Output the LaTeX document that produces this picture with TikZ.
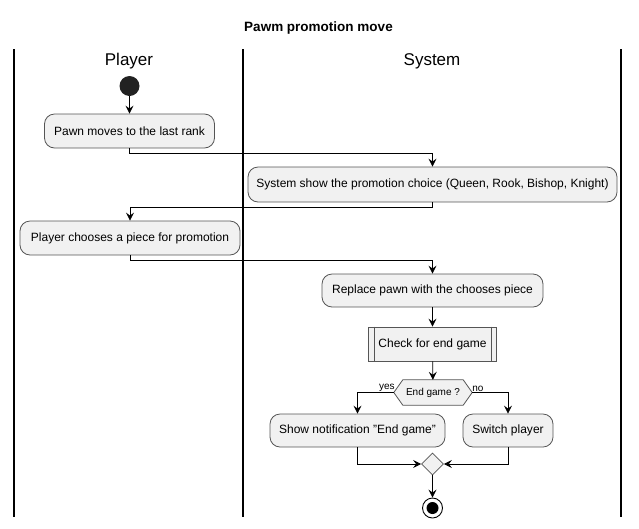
\documentclass[tikz,border=0pt]{standalone}
\usepackage{fontspec}
\setmainfont{Liberation Sans}
\usetikzlibrary{arrows.meta,shapes.geometric,calc}
\definecolor{boxfill}{HTML}{F1F1F1}
\definecolor{boxline}{HTML}{555555}
\definecolor{dotfill}{HTML}{222222}
\tikzset{
  act/.style={draw=boxline, fill=boxfill, rounded corners=10pt, line width=0.8pt,
    inner sep=0pt, font=\fontsize{12}{14}\selectfont, text=black},
  sub/.style={draw=boxline, fill=boxfill, line width=0.8pt,
    inner sep=0pt, font=\fontsize{12}{14}\selectfont, text=black},
  flow/.style={draw=black, line width=0.8pt, -{Stealth[length=8pt,width=8pt,inset=3pt]}},
  lane/.style={draw=black, line width=1.3pt},
  lanehead/.style={font=\fontsize{17}{20}\selectfont},
  guard/.style={font=\fontsize{10}{12}\selectfont, inner sep=0pt}
}
\begin{document}
\begin{tikzpicture}[x=1pt,y=-1pt]
\useasboundingbox (0,0) rectangle (639,528);
% title
\node[font=\fontsize{13.5}{16}\bfseries\selectfont] (title) at (318.5,28) {Pawm promotion move};
% lanes
\draw[lane] (14,49) -- (14,517);
\draw[lane] (243,49) -- (243,517);
\draw[lane] (621,49) -- (621,517);
\node[lanehead] (hp) at (129,61.5) {Player};
\node[lanehead] (hs) at (432,61.5) {System};
% start
\node[circle, fill=dotfill, minimum size=20pt, inner sep=0pt] (start) at (129.5,86) {};
% activities
\node[act, minimum width=170pt, minimum height=34pt] (b1) at (129.5,131) {Pawn moves to the last rank};
\node[act, minimum width=369pt, minimum height=35pt] (b2) at (432.5,184.5) {System show the promotion choice (Queen, Rook, Bishop, Knight)};
\node[act, minimum width=220pt, minimum height=34pt] (b3) at (130,238) {Player chooses a piece for promotion};
\node[act, minimum width=221pt, minimum height=33pt] (b4) at (432.5,290.5) {Replace pawn with the chooses piece};
\node[sub, minimum width=128pt, minimum height=34pt] (b5) at (432.5,344) {Check for end game};
\draw[boxline, line width=0.8pt] ($(b5.north west)+(6,0)$) -- ($(b5.south west)+(6,0)$);
\draw[boxline, line width=0.8pt] ($(b5.north east)+(-6,0)$) -- ($(b5.south east)+(-6,0)$);
% decision
\node[inner sep=0pt, minimum width=78pt, minimum height=25pt] (hex) at (433,392.5) {};
\draw[boxline, fill=boxfill, line width=0.8pt] (hex.west) -- ($(hex.north west)+(9,0)$) -- ($(hex.north east)+(-9,0)$) -- (hex.east) -- ($(hex.south east)+(-9,0)$) -- ($(hex.south west)+(9,0)$) -- cycle;
\node[guard] (hext) at (hex.center) {End game ?};
\node[act, minimum width=175pt, minimum height=33pt] (b6) at (357.5,430.5) {Show notification \char34 End game\char34};
\node[act, minimum width=90pt, minimum height=33pt] (b7) at (508,430.5) {Switch player};
% merge
\node[diamond, draw=boxline, fill=boxfill, line width=0.8pt, minimum width=22pt, minimum height=22pt, inner sep=0pt] (m) at (432.5,464) {};
% end
\node[circle, draw=black, fill=white, line width=0.9pt, minimum size=20pt, inner sep=0pt] (end) at (432.5,508) {};
\node[circle, fill=black, minimum size=12pt, inner sep=0pt] (endin) at (end.center) {};
% flows
\draw[flow] (start) -- (b1);
\draw[flow] (b1.south) -- ++(0,5) -| (b2.north);
\draw[flow] (b2.south) -- ++(0,4.5) -| (b3.north);
\draw[flow] (b3.south) -- ++(0,4.5) -| (b4.north);
\draw[flow] (b4) -- (b5);
\draw[flow] (b5) -- (hex);
\draw[flow] (hex.west) -| (b6.north);
\draw[flow] (hex.east) -| (b7.north);
\node[guard, anchor=south east] (yes) at ($(hex.west)+(1,-1)$) {yes};
\node[guard, anchor=south west] (no) at ($(hex.east)+(0,-1)$) {no};
\draw[flow] (b6.south) |- (m.west);
\draw[flow] (b7.south) |- (m.east);
\draw[flow] (m.south) -- (end.north);
\end{tikzpicture}
\end{document}
